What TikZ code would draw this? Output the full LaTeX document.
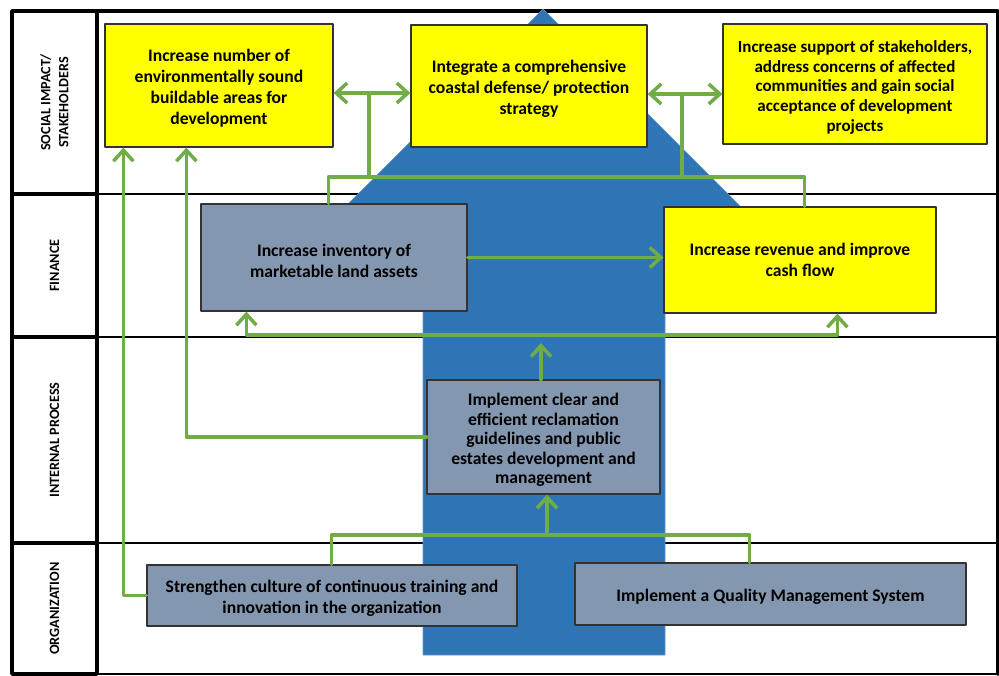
\documentclass[tikz,border=0pt]{standalone}
\usepackage{fontspec}
\setmainfont{Carlito}
\usepackage{tikz}
\usetikzlibrary{arrows.meta}
\definecolor{goalyellow}{HTML}{FFFF00}
\definecolor{taskgray}{HTML}{8497B0}
\definecolor{arrowblue}{HTML}{2E75B6}
\definecolor{linkgreen}{HTML}{70AD47}
\newcommand\boxstrut{\rule{0pt}{18.5pt}}

\begin{document}
\begin{tikzpicture}[line cap=round,line join=round,x=1pt,y=-1pt,
  goal/.style={draw=black!80,line width=1.2pt,fill=goalyellow,align=center,inner sep=0pt,font=\fontsize{17.6}{21}\selectfont\bfseries},
  task/.style={goal,fill=taskgray},
  tight/.style={font=\fontsize{17.6}{19.6}\selectfont\bfseries},
  lane/.style={rotate=90,align=center,font=\fontsize{14.2}{18}\selectfont\bfseries},
  link/.style={draw=linkgreen,line width=3.5pt},
  tip/.style={link,-{Straight Barb[length=11pt,width=20pt]}},
  tips/.style={link,{Straight Barb[length=11pt,width=20pt]}-{Straight Barb[length=11pt,width=20pt]}}]
\useasboundingbox (0,0) rectangle (999,675);

\draw[line width=3.5pt] (12,11) rectangle (97,674);
\foreach \y in {194,337,543}
\draw[line width=3.5pt] (12,\y) -- (97,\y);
\foreach \y in {194,337,543}
\draw[line width=2pt] (97,\y) -- (998,\y);
\draw[line width=3.5pt] (97,11) -- (998,11) -- (998,674);
\draw[line width=2pt] (97,674) -- (998,674);

\node[lane] (social) at (54.5,102.5) {SOCIAL IMPACT/\\STAKEHOLDERS};
\node[lane] (finance) at (54.5,265.5) {FINANCE};
\node[lane] (process) at (54.5,440) {INTERNAL PROCESS};
\node[lane] (organization) at (54.5,608.5) {ORGANIZATION};

\draw[fill=arrowblue,draw=arrowblue!75!white,line width=0.6pt] (423,655) -- (423,290) -- (262,290) -- (543,9) -- (824,290) -- (665,290) -- (665,655) -- cycle;

\node[goal,minimum width=228pt,minimum height=123pt] (buildable) at (219,85.5) {\boxstrut Increase number of\\environmentally sound\\buildable areas for\\development};
\node[goal,minimum width=236pt,minimum height=122pt] (coastal) at (529,86) {\boxstrut Integrate a comprehensive\\coastal defense/ protection\\strategy};
\node[goal,font=\fontsize{17}{19.6}\selectfont\bfseries,minimum width=264pt,minimum height=120pt] (support) at (855,84) {\boxstrut Increase support of stakeholders,\\address concerns of affected\\communities and gain social\\acceptance of development\\projects};
\node[task,minimum width=266pt,minimum height=107pt] (inventory) at (334,257.5) {\boxstrut Increase inventory of\\marketable land assets};
\node[goal,minimum width=272pt,minimum height=106pt] (revenue) at (800,260) {Increase revenue and improve\\cash flow};
\node[task,tight,minimum width=233pt,minimum height=114pt] (guidelines) at (543.5,437) {\boxstrut Implement clear and\\efficient reclamation\\guidelines and public\\estates development and\\management};
\node[task,minimum width=370pt,minimum height=61pt] (strengthen) at (332,595.5) {\boxstrut Strengthen culture of continuous training and\\innovation in the organization};
\node[task,minimum width=391pt,minimum height=62pt] (quality) at (770.5,594) {\boxstrut Implement a Quality Management System};

\coordinate (stemL) at (369,93);
\coordinate (stemR) at (682,94);
\coordinate (socbus) at (600,177);
\coordinate (finbus) at (541,335);
\coordinate (fintip) at (541,343);
\coordinate (orgbus) at (547,535);

\draw[tips] (buildable.east |- stemL) -- (coastal.west |- stemL);
\draw[tips] (coastal.east |- stemR) -- (support.west |- stemR);
\draw[link] ([xshift=128pt]inventory.north west) |- (socbus) -| ([xshift=141pt]revenue.north west);
\draw[link] (stemL) -- (stemL |- socbus);
\draw[link] (stemR) -- (stemR |- socbus);
\draw[tip] (inventory.east) -- (revenue.west |- inventory.east);
\draw[tips] ([xshift=46pt]inventory.south west) |- (finbus) -| ([xshift=174pt]revenue.south west);
\draw[tip] (guidelines.north -| fintip) -- (fintip);
\draw[tip] (guidelines.west) -| ([xshift=82pt]buildable.south west);
\draw[tip] (strengthen.west) -| ([xshift=19pt]buildable.south west);
\draw[link] ([xshift=185pt]strengthen.north west) |- (orgbus) -| ([xshift=175pt]quality.north west);
\draw[tip] (orgbus) -- (orgbus |- guidelines.south);

\end{tikzpicture}
\end{document}
